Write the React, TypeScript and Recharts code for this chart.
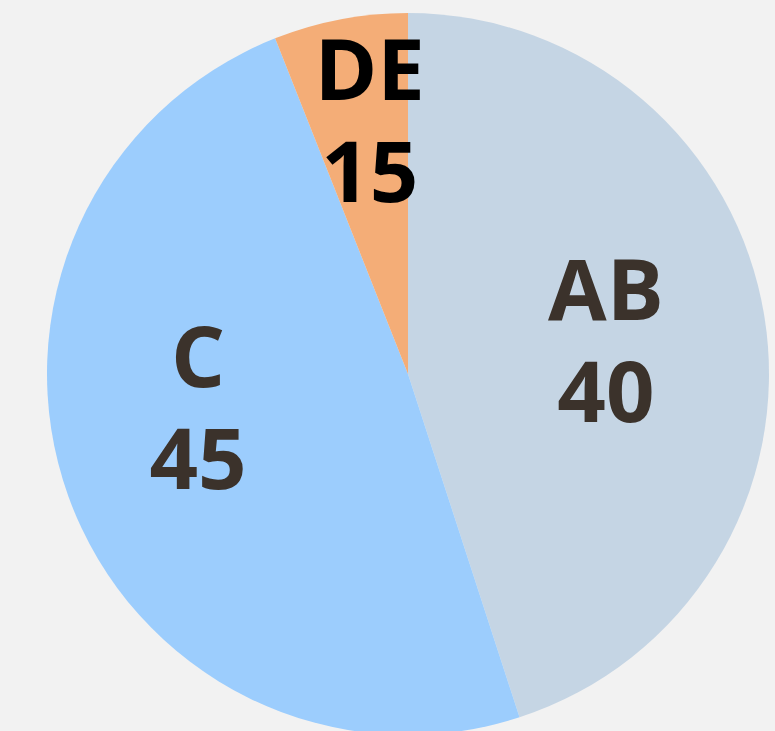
import { PieChart, Pie, Cell } from 'recharts'

const categories = ['AB', 'C', 'DE']
// slice sizes as drawn in the picture
const sliceValues = [45, 49, 6]
// numbers printed on the slices
const labelValues = ['40', '45', '15']

const colors = ['#c5d5e4', '#9ccdfd', '#f4ad77']
const textColors = ['#3b322b', '#3b322b', '#000000']
// small nudges so labels sit where the original put them
const labelPlacement = [
  { r: 0.556, turn: 0.6 },
  { r: 0.589, turn: -10.7 },
  { r: 0.709, turn: -2.2 },
]

const chartData = categories.map((name, i) => ({ name, value: sliceValues[i], label: labelValues[i] }))

const RADIAN = Math.PI / 180
const FONT_SIZE = 85
const LINE_GAP = 102

interface LabelProps {
  cx: number
  cy: number
  midAngle: number
  outerRadius: number
  index: number
  [key: string]: unknown
}

function SliceLabel({ cx, cy, midAngle, outerRadius, index }: LabelProps) {
  const p = labelPlacement[index]
  const a = (midAngle + p.turn) * RADIAN
  const x = cx + Math.cos(-a) * outerRadius * p.r
  const y = cy + Math.sin(-a) * outerRadius * p.r
  const shift = 0.357 * FONT_SIZE
  return (
    <text
      x={x}
      y={y - LINE_GAP / 2 + shift}
      textAnchor="middle"
      style={{
        fontFamily: '"Open Sans", sans-serif',
        fontWeight: 700,
        fontSize: FONT_SIZE,
        fill: textColors[index],
      }}
    >
      <tspan x={x}>{categories[index]}</tspan>
      <tspan x={x} dy={LINE_GAP}>{labelValues[index]}</tspan>
    </text>
  )
}

export default function App() {
  return (
    <div style={{ width: 775, height: 731, background: '#f2f2f2' }}>
      <style>{`body{margin:0;background:#f2f2f2}`}</style>
      <PieChart width={775} height={731} margin={{ top: 0, right: 0, bottom: 0, left: 0 }}>
        <Pie
          data={chartData}
          dataKey="value"
          cx={408}
          cy={374}
          outerRadius={361}
          startAngle={90}
          endAngle={-270}
          stroke="none"
          labelLine={false}
          label={SliceLabel}
          isAnimationActive={false}
        >
          {chartData.map((d, i) => (
            <Cell key={d.name} fill={colors[i]} />
          ))}
        </Pie>
      </PieChart>
    </div>
  )
}
